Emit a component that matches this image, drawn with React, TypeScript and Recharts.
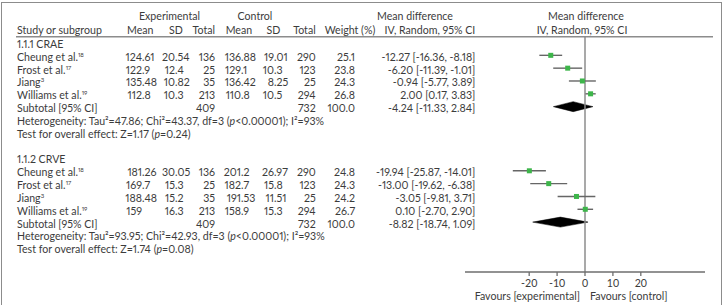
import React from 'react';
import { ComposedChart, Scatter, Area, XAxis, YAxis, ErrorBar, ReferenceLine } from 'recharts';

// ---------------- data ----------------
const studyNames = ['Cheung et al.', 'Frost et al.', 'Jiang', 'Williams et al.'];
const studyRefs = ['18', '17', '3', '19'];
const subgroupLabels = ['1.1.1 CRAE', '1.1.2 CRVE'];
const subgroupStartRow = [0, 9];

const craeExpMean = ['124.61', '122.9', '135.48', '112.8'];
const craeExpSD = ['20.54', '12.4', '10.82', '10.3'];
const craeExpTotal = [136, 25, 35, 213];
const craeCtlMean = ['136.88', '129.1', '136.42', '110.8'];
const craeCtlSD = ['19.01', '10.3', '8.25', '10.5'];
const craeCtlTotal = [290, 123, 25, 294];
const craeWeight = ['25.1', '23.8', '24.3', '26.8'];
const craeMD = [-12.27, -6.2, -0.94, 2.0];
const craeLo = [-16.36, -11.39, -5.77, 0.17];
const craeHi = [-8.18, -1.01, 3.89, 3.83];
const craeSubtotal = [-4.24, -11.33, 2.84];

const crveExpMean = ['181.26', '169.7', '188.48', '159'];
const crveExpSD = ['30.05', '15.3', '15.2', '16.3'];
const crveExpTotal = [136, 25, 35, 213];
const crveCtlMean = ['201.2', '182.7', '191.53', '158.9'];
const crveCtlSD = ['26.97', '15.8', '11.51', '15.3'];
const crveCtlTotal = [290, 123, 25, 294];
const crveWeight = ['24.8', '24.3', '24.2', '26.7'];
const crveMD = [-19.94, -13.0, -3.05, 0.1];
const crveLo = [-25.87, -19.62, -9.81, -2.7];
const crveHi = [-14.01, -6.38, 3.71, 2.9];
const crveSubtotal = [-8.82, -18.74, 1.09];

const subtotalExpN = [409, 409];
const subtotalCtlN = [732, 732];
const subtotalWeight = ['100.0', '100.0'];
const hetTau2 = ['47.86', '93.95'];
const hetChi2 = ['43.37', '42.93'];
const hetDf = [3, 3];
const hetP = ['<0.00001', '<0.00001'];
const hetI2 = [93, 93];
const overallZ = ['1.17', '1.74'];
const overallP = ['0.24', '0.08'];

const xTicks = [-20, -10, 0, 10, 20];

// ---------------- build rows ----------------
const groups = [
  { expMean: craeExpMean, expSD: craeExpSD, expTotal: craeExpTotal, ctlMean: craeCtlMean, ctlSD: craeCtlSD, ctlTotal: craeCtlTotal, weight: craeWeight, md: craeMD, lo: craeLo, hi: craeHi, sub: craeSubtotal },
  { expMean: crveExpMean, expSD: crveExpSD, expTotal: crveExpTotal, ctlMean: crveCtlMean, ctlSD: crveCtlSD, ctlTotal: crveCtlTotal, weight: crveWeight, md: crveMD, lo: crveLo, hi: crveHi, sub: crveSubtotal },
];

const fmt = (v: number) => v.toFixed(2);
const ciText = (m: number, l: number, h: number) => `${fmt(m)} [${fmt(l)}, ${fmt(h)}]`;

const tableRows: any[] = [{ x: 0, y: -1, kind: 'header' }];
const studyPoints: any[] = [];
const diamonds: any[][] = [];

groups.forEach((g, gi) => {
  const r0 = subgroupStartRow[gi];
  tableRows.push({ x: 0, y: r0, kind: 'label', text: subgroupLabels[gi] });
  studyNames.forEach((name, si) => {
    const row = r0 + 1 + si;
    tableRows.push({
      x: 0, y: row, kind: 'study', name, sup: studyRefs[si],
      expMean: g.expMean[si], expSD: g.expSD[si], expTotal: g.expTotal[si],
      ctlMean: g.ctlMean[si], ctlSD: g.ctlSD[si], ctlTotal: g.ctlTotal[si],
      weight: g.weight[si], ci: ciText(g.md[si], g.lo[si], g.hi[si]),
    });
    studyPoints.push({ x: g.md[si], y: row, ex: [g.md[si] - g.lo[si], g.hi[si] - g.md[si]] });
  });
  const subRow = r0 + 5;
  tableRows.push({
    x: 0, y: subRow, kind: 'subtotal', expTotal: subtotalExpN[gi], ctlTotal: subtotalCtlN[gi],
    weight: subtotalWeight[gi], ci: ciText(g.sub[0], g.sub[1], g.sub[2]),
  });
  tableRows.push({ x: 0, y: r0 + 6, kind: 'het', tau: hetTau2[gi], chi: hetChi2[gi], df: hetDf[gi], p: hetP[gi], i2: hetI2[gi] });
  tableRows.push({ x: 0, y: r0 + 7, kind: 'test', z: overallZ[gi], p: overallP[gi] });
  const h = 0.39;
  diamonds.push([
    { x: g.sub[1], yr: [subRow, subRow] },
    { x: g.sub[0], yr: [subRow - h, subRow + h] },
    { x: g.sub[2], yr: [subRow, subRow] },
  ]);
});

// ---------------- layout / style ----------------
const W = 723;
const H = 305;
const FONT = "Lato, 'Open Sans', sans-serif";
const FS = 10.6;
const INK = '#3c3c3c';
const RULE = '#8c8c8c';
const GREEN = '#3db54a';
const ROW0 = 42.5;
const ROWH = 12.83;
const PLOT_BOTTOM = 272;
const yDomain: [number, number] = [-ROW0 / ROWH, (PLOT_BOTTOM - ROW0) / ROWH];
const HEADER_LINE_ROW = -1 + 7 / ROWH;

const COL = {
  study: 17, expMeanDec: 142, expSDDec: 175, expTotal: 215,
  ctlMeanDec: 241, ctlSDDec: 274, ctlTotal: 315.7, weight: 355, ci: 475.3,
};

const tp = {
  fontFamily: FONT, fontSize: FS, fill: INK, dominantBaseline: 'central' as any,
  style: { fontVariantNumeric: 'proportional-nums' },
};

const Dec = ({ x, y, v }: { x: number; y: number; v: string }) => {
  const [a, b] = v.split('.');
  return (
    <>
      <text {...tp} x={x} y={y} textAnchor="end">{a}</text>
      {b !== undefined && <text {...tp} x={x} y={y} textAnchor="start">.{b}</text>}
    </>
  );
};

const RowShape = (props: any) => {
  const { cy, payload } = props;
  if (cy == null || !payload) return <g />;
  const y = cy + 1.5;
  const d = payload;
  if (d.kind === 'header') {
    const y1 = cy - 14;
    return (
      <g>
        <text {...tp} x={169.5} y={y1} textAnchor="middle">Experimental</text>
        <text {...tp} x={255} y={y1} textAnchor="middle">Control</text>
        <text {...tp} x={415} y={y1} textAnchor="middle">Mean difference</text>
        <text {...tp} x={586} y={y1} textAnchor="middle">Mean difference</text>
        <text {...tp} x={COL.study} y={cy} textAnchor="start">Study or subgroup</text>
        <text {...tp} x={127} y={cy} textAnchor="start">Mean</text>
        <text {...tp} x={176} y={cy} textAnchor="middle">SD</text>
        <text {...tp} x={COL.expTotal} y={cy} textAnchor="end">Total</text>
        <text {...tp} x={225.7} y={cy} textAnchor="start">Mean</text>
        <text {...tp} x={273.5} y={cy} textAnchor="middle">SD</text>
        <text {...tp} x={COL.ctlTotal} y={cy} textAnchor="end">Total</text>
        <text {...tp} x={350} y={cy} textAnchor="middle">Weight (%)</text>
        <text {...tp} x={COL.ci} y={cy} textAnchor="end">IV, Random, 95% CI</text>
        <text {...tp} x={582} y={cy} textAnchor="middle">IV, Random, 95% CI</text>
        <line x1={16} x2={713} y1={cy + 7} y2={cy + 7} stroke={RULE} strokeWidth={1.5} />
      </g>
    );
  }
  if (d.kind === 'label') {
    return <text {...tp} x={COL.study} y={y} textAnchor="start">{d.text}</text>;
  }
  if (d.kind === 'study') {
    return (
      <g>
        <text {...tp} x={COL.study} y={y} textAnchor="start">
          {d.name}
          <tspan fontSize={6} dy={-3}>{d.sup}</tspan>
        </text>
        <Dec x={COL.expMeanDec} y={y} v={d.expMean} />
        <Dec x={COL.expSDDec} y={y} v={d.expSD} />
        <text {...tp} x={COL.expTotal} y={y} textAnchor="end">{d.expTotal}</text>
        <Dec x={COL.ctlMeanDec} y={y} v={d.ctlMean} />
        <Dec x={COL.ctlSDDec} y={y} v={d.ctlSD} />
        <text {...tp} x={COL.ctlTotal} y={y} textAnchor="end">{d.ctlTotal}</text>
        <text {...tp} x={COL.weight} y={y} textAnchor="end">{d.weight}</text>
        <text {...tp} x={COL.ci} y={y} textAnchor="end">{d.ci}</text>
      </g>
    );
  }
  if (d.kind === 'subtotal') {
    return (
      <g>
        <text {...tp} x={COL.study} y={y} textAnchor="start">Subtotal [95% CI]</text>
        <text {...tp} x={COL.expTotal} y={y} textAnchor="end">{d.expTotal}</text>
        <text {...tp} x={COL.ctlTotal} y={y} textAnchor="end">{d.ctlTotal}</text>
        <text {...tp} x={COL.weight} y={y} textAnchor="end">{d.weight}</text>
        <text {...tp} x={COL.ci} y={y} textAnchor="end">{d.ci}</text>
      </g>
    );
  }
  if (d.kind === 'het') {
    return (
      <text {...tp} x={COL.study} y={y} textAnchor="start">
        {`Heterogeneity: Tau\u00b2=${d.tau}; Chi\u00b2=${d.chi}, df=${d.df} (`}
        <tspan fontStyle="italic">p</tspan>
        {`${d.p}); I\u00b2=${d.i2}%`}
      </text>
    );
  }
  if (d.kind === 'test') {
    return (
      <text {...tp} x={COL.study} y={y} textAnchor="start">
        {`Test for overall effect: Z=${d.z} (`}
        <tspan fontStyle="italic">p</tspan>
        {`=${d.p})`}
      </text>
    );
  }
  return <g />;
};

const SquareShape = (props: any) => {
  const { cx, cy } = props;
  if (cx == null || cy == null) return <g />;
  const s = 5;
  return <rect x={cx - s / 2} y={cy - s / 2} width={s} height={s} fill={GREEN} />;
};

const FavoursLabel = (props: any) => {
  const vb = props.viewBox || {};
  const zx = vb.x + vb.width / 2;
  const y = vb.y + 23.5;
  return (
    <g>
      <text {...tp} x={zx - 5} y={y} textAnchor="end">Favours [experimental]</text>
      <text {...tp} x={zx + 5} y={y} textAnchor="start">Favours [control]</text>
    </g>
  );
};

export default function App() {
  return (
    <div style={{ position: 'absolute', left: 0, top: 0, width: W, height: H, overflow: 'hidden', background: '#fff' }}>
      <div
        style={{
          position: 'absolute', left: 1, top: 2, width: 721, height: 320, boxSizing: 'border-box',
          borderLeft: `1.5px solid ${RULE}`, borderTop: `1.5px solid ${RULE}`, borderRight: `1.5px solid ${RULE}`,
        }}
      />
      <div style={{ position: 'absolute', left: 0, top: 0 }}>
        <ComposedChart width={W} height={H} margin={{ top: 0, right: 18, bottom: 0, left: 465 }}>
          <XAxis
            type="number"
            dataKey="x"
            domain={[-43, 43]}
            ticks={xTicks}
            interval={0}
            height={33}
            tickSize={4}
            tickMargin={3}
            axisLine={{ stroke: '#6e6e6e', strokeWidth: 1.3 }}
            tickLine={{ stroke: '#6e6e6e', strokeWidth: 1.3 }}
            tick={{ fontFamily: FONT, fontSize: FS, fill: INK }}
            label={{ content: FavoursLabel }}
          />
          <YAxis type="number" dataKey="y" domain={yDomain} reversed hide />
          <ReferenceLine
            segment={[{ x: 0, y: HEADER_LINE_ROW }, { x: 0, y: yDomain[1] }]}
            stroke={RULE}
            strokeWidth={1.5}
          />
          {diamonds.map((d, i) => (
            <Area
              key={`dia${i}`}
              data={d}
              dataKey="yr"
              type="linear"
              fill="#000"
              fillOpacity={1}
              stroke="#000"
              strokeWidth={0.5}
              dot={false}
              activeDot={false}
              isAnimationActive={false}
            />
          ))}
          <Scatter data={studyPoints} shape={SquareShape} isAnimationActive={false}>
            <ErrorBar dataKey="ex" direction="x" width={0} stroke="#666" strokeWidth={1.4} />
          </Scatter>
          <Scatter data={tableRows} shape={RowShape} isAnimationActive={false} />
        </ComposedChart>
      </div>
    </div>
  );
}
